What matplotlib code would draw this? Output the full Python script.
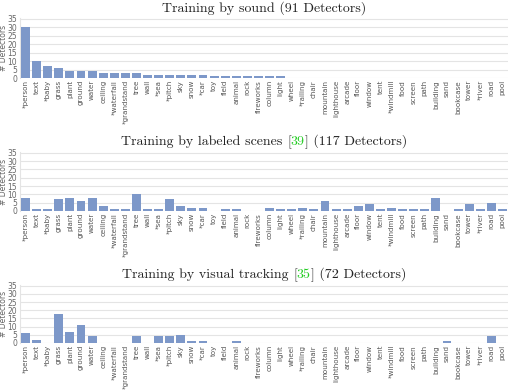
import matplotlib
matplotlib.use("Agg")
import matplotlib.pyplot as plt
import numpy as np
from matplotlib.offsetbox import TextArea, HPacker, AnchoredOffsetbox

categories = ["*person", "text", "*baby", "grass", "plant", "ground", "water", "ceiling",
              "*waterfall", "*grandstand", "tree", "wall", "*sea", "*pitch", "sky", "snow",
              "*car", "toy", "field", "animal", "rock", "fireworks", "column", "light",
              "wheel", "*railing", "chair", "mountain", "lighthouse", "arcade", "floor",
              "window", "tent", "*windmill", "food", "screen", "path", "building", "sand",
              "bookcase", "tower", "*river", "road", "pool"]

sound = [30, 10, 7, 6, 4, 4, 4, 3, 3, 3, 3, 2, 2, 2, 2, 2, 2, 1, 1, 1, 1, 1, 1, 1,
         0, 0, 0, 0, 0, 0, 0, 0, 0, 0, 0, 0, 0, 0, 0, 0, 0, 0, 0, 0]
scenes = [8, 1, 1, 7, 8, 6, 8, 3, 1, 1, 10, 1, 1, 7, 3, 2, 2, 0, 1, 1, 0, 0, 2, 1,
          1, 2, 1, 6, 1, 1, 3, 4, 1, 2, 1, 1, 1, 8, 0, 1, 4, 1, 5, 1]
tracking = [6, 2, 0, 18, 7, 11, 4, 0, 0, 0, 4, 0, 4, 4, 5, 1, 1, 0, 0, 1, 0, 0, 0, 0,
            0, 0, 0, 0, 0, 0, 0, 0, 0, 0, 0, 0, 0, 0, 1, 0, 0, 0, 4, 0]

titles = [
    [("Training by sound (91 Detectors)", "#222222")],
    [("Training by labeled scenes ", "#222222"), ("[", "#222222"), ("39", "#22cc22"),
     ("] (117 Detectors)", "#222222")],
    [("Training by visual tracking ", "#222222"), ("[", "#222222"), ("35", "#22cc22"),
     ("] (72 Detectors)", "#222222")],
]
yticks = [0, 5, 10, 15, 20, 25, 30, 35]

series = [sound, scenes, tracking]

fig = plt.figure(figsize=(5.1, 3.92), dpi=100)
W, H = 510, 392
left, right = 20, 508
tops = [18, 152, 285]
heights = [60, 59, 58]

bar_color = "#7d98c9"
for i, vals in enumerate(series):
    t = tops[i]
    h = heights[i]
    ax = fig.add_axes([left / W, 1 - (t + h) / H, (right - left) / W, h / H])
    x = np.arange(len(categories))
    ax.bar(x, vals, width=0.8, color=bar_color, zorder=3)
    ax.set_xlim(-0.5, len(categories) - 0.5)
    ax.set_ylim(0, 35.5)
    ax.set_yticks(yticks)
    ax.set_yticklabels([str(v) for v in yticks], fontsize=5.5, color="#666666")
    ax.set_xticks(x)
    ax.set_xticklabels(categories, rotation=90, fontsize=5.1, color="#555555")
    ax.tick_params(axis="x", length=0, pad=1.5)
    ax.tick_params(axis="y", length=0, pad=2)
    ax.grid(axis="y", color="#e4e4e4", linewidth=0.8, zorder=0)
    for s in ["top", "right", "bottom"]:
        ax.spines[s].set_visible(False)
    ax.spines["left"].set_color("#e4e4e4")
    ax.spines["left"].set_linewidth(0.8)
    ax.set_ylabel("# Detectors", fontsize=5.5, color="#666666")
    ax.yaxis.set_label_coords(-12 / (right - left), 0.5)

    parts = [TextArea(txt, textprops=dict(color=c, fontsize=10, family="cmr10"))
             for txt, c in titles[i]]
    box = HPacker(children=parts, align="baseline", pad=0, sep=0)
    anch = AnchoredOffsetbox(loc="lower center", child=box, pad=0, frameon=False,
                             bbox_to_anchor=(0.5, 1.0 + 3 / h), bbox_transform=ax.transAxes,
                             borderpad=0)
    ax.add_artist(anch)

fig.savefig("out.png", dpi=100)
